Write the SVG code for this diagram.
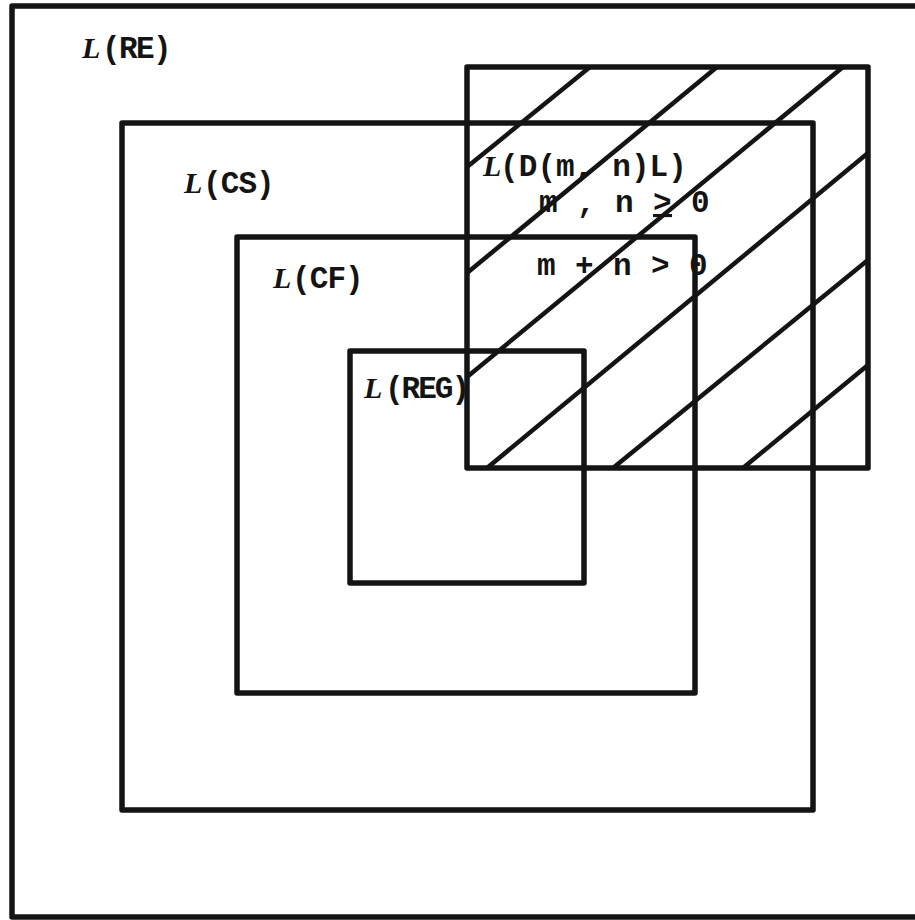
<svg xmlns="http://www.w3.org/2000/svg" width="915" height="920" viewBox="0 0 915 920">
<style>
.box{fill:none;stroke:#141414;stroke-width:5.5;stroke-linejoin:round}
.hatch{stroke:#141414;stroke-width:4.5;stroke-linecap:butt}
.lbl{font-family:"Liberation Mono","Courier New",monospace;font-weight:bold;font-size:31px;fill:#141414}
.it{font-family:"Liberation Serif","Times New Roman",serif;font-style:italic;font-weight:bold;font-size:30px}
</style>
<rect x="0" y="0" width="915" height="920" fill="#ffffff"/>
<g id="node-RE">
<rect class="box" x="12" y="6" width="930" height="911"/>
<text class="lbl" y="58"><tspan class="it" x="82">L</tspan><tspan x="102" letter-spacing="-1.6">(RE)</tspan></text>
</g>
<g id="node-CS">
<rect class="box" x="122" y="123" width="691" height="687"/>
<text class="lbl" y="193"><tspan class="it" x="184">L</tspan><tspan x="203" letter-spacing="-0.9">(CS)</tspan></text>
</g>
<g id="node-CF">
<rect class="box" x="237" y="237" width="458" height="456"/>
<text class="lbl" y="288"><tspan class="it" x="273">L</tspan><tspan x="292" letter-spacing="-0.9">(CF)</tspan></text>
</g>
<g id="node-REG">
<rect class="box" x="350" y="351" width="234" height="232"/>
<text class="lbl" y="398"><tspan class="it" x="364">L</tspan><tspan x="385" letter-spacing="-2">(REG)</tspan></text>
</g>
<g id="node-D">
<text class="lbl" y="176"><tspan class="it" x="483">L</tspan><tspan x="500" letter-spacing="0.1">(D(m, n)L)</tspan></text>
<text class="lbl" y="212" x="539" letter-spacing="0.4">m , n <tspan text-decoration="underline">&gt;</tspan> 0</text>
<text class="lbl" y="275" x="537" letter-spacing="0.4">m + n &gt; 0</text>
<line class="hatch" x1="467" y1="167" x2="590" y2="67"/>
<line class="hatch" x1="467" y1="273" x2="717" y2="67"/>
<line class="hatch" x1="467" y1="377" x2="843" y2="67"/>
<line class="hatch" x1="487" y1="468" x2="868" y2="153"/>
<line class="hatch" x1="613" y1="468" x2="868" y2="260"/>
<line class="hatch" x1="743" y1="468" x2="868" y2="365"/>
<rect class="box" x="467" y="67" width="401" height="401"/>
</g>
<g id="connectors"/>
</svg>
